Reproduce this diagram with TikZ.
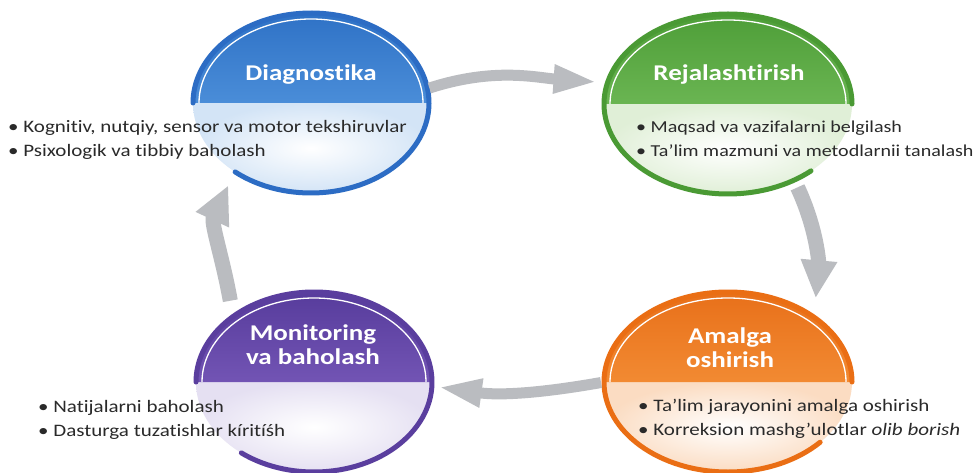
\documentclass[tikz,border=0pt]{standalone}
\usepackage{fontspec}
\setmainfont{Carlito}[FakeStretch=1.2, Ligatures=NoCommon]
\usetikzlibrary{arrows.meta,shapes.geometric}

\definecolor{blueTop}{HTML}{2F72C6}
\definecolor{blueBot}{HTML}{4A8DD8}
\definecolor{blueRing}{HTML}{2C6CC4}
\definecolor{blueTint}{HTML}{D3E4F6}
\definecolor{greenTop}{HTML}{4E9E38}
\definecolor{greenBot}{HTML}{6AB552}
\definecolor{greenRing}{HTML}{4A9A34}
\definecolor{greenTint}{HTML}{E0EFD7}
\definecolor{purpleTop}{HTML}{573C9C}
\definecolor{purpleBot}{HTML}{7254B4}
\definecolor{purpleRing}{HTML}{5A3E9E}
\definecolor{purpleTint}{HTML}{E5E0F2}
\definecolor{orangeTop}{HTML}{E8701A}
\definecolor{orangeBot}{HTML}{F28A32}
\definecolor{orangeRing}{HTML}{EA6E14}
\definecolor{orangeTint}{HTML}{FBDCC2}
\definecolor{arrowgray}{HTML}{BABCC0}
\definecolor{textdark}{HTML}{2A2A2A}

\newcommand\stagering[8]{%
  \node[ring, minimum width={2*#4pt}, minimum height={2*#5pt}] (#1) at (#2,#3) {};
  \shade[inner color=white, outer color=#6Tint]
    (#1.center) ++(-#4pt,0) arc[start angle=180, end angle=360, x radius=#4pt, y radius=#5pt] -- cycle;
  \shade[top color=#6Top, bottom color=#6Bot]
    (#1.center) ++(#4pt,0) arc[start angle=0, end angle=180, x radius=#4pt, y radius=#5pt] -- cycle;
  \draw[white, line width=1.3pt]
    (#1.center) ++({-#4pt+6pt},0) arc[start angle=180, end angle=0, x radius={#4pt-6pt}, y radius={#5pt-6pt}];
  \draw[#6Ring, line width=5pt, line cap=round]
    (#1.center) ++(#7:{#4pt} and {#5pt}) arc[start angle=#7, end angle=#8, x radius=#4pt, y radius=#5pt];
}

\tikzset{
  ring/.style={ellipse, inner sep=0pt, outer sep=0pt},
  title/.style={text=white, font=\bfseries\fontsize{22.5}{24}\selectfont, align=center, inner sep=0pt},
  items/.style={text=textdark, font=\fontsize{17.5}{24.5}\selectfont, align=left, anchor=west, inner sep=0pt},
  hflow/.style={draw=arrowgray, line width=11pt, -{Triangle[width=26pt,length=44pt]}},
  vflow/.style={draw=arrowgray, line width=15pt, -{Triangle[width=34pt,length=38pt]}}
}

\begin{document}
\begin{tikzpicture}[x=1pt, y=1pt]
\fill[white] (0,0) rectangle (980,472);
\useasboundingbox (0,0) rectangle (980,472);

\stagering{diag}{311}{369}{118}{90}{blue}{-130}{180}
\stagering{rej}{728}{368}{124}{90}{green}{0}{312}
\stagering{mon}{314}{90}{118}{90}{purple}{-128}{180}
\stagering{amal}{728}{90}{124}{90}{orange}{0}{318}

% arrows
\draw[hflow, shorten <=2pt, shorten >=10pt] (diag.7) to[out=18, in=176] (rej.170);
\draw[vflow, shorten <=8pt, shorten >=19pt] (rej.-49) to[out=-65, in=85] (amal.37.6);
\draw[hflow, shorten <=3pt, shorten >=6pt] (amal.180) to[out=190, in=-8] (mon.-2);
\draw[vflow, shorten <=16pt, shorten >=15pt] (mon.141) to[out=100, in=-115] (diag.222);

% titles
\node[title] (diagT) at (311,397) {Diagnostika};
\node[title] (rejT) at (729,397) {Rejalashtirish};
\node[title] (monT) at (313,127) {Monitoring\\va baholash};
\node[title] (amalT) at (730,124) {Amalga\\oshirish};

% lists
\node[items] (diagL) at (8,332) {• Kognitiv, nutqiy, sensor va motor tekshiruvlar\\• Psixologik va tibbiy baholash};
\node[items, font=\fontsize{16.7}{24}\selectfont] (rejL) at (636,333) {• Maqsad va vazifalarni belgilash\\• Ta’lim mazmuni va metodlarnii tanalash};
\node[items] (monL) at (38,52) {• Natijalarni baholash\\• Dasturga tuzatishlar kíritíśh};
\node[items] (amalL) at (638,53) {• Ta’lim jarayonini amalga oshirish\\• Korreksion mashg’ulotlar \textit{olib borish}};
\end{tikzpicture}
\end{document}
